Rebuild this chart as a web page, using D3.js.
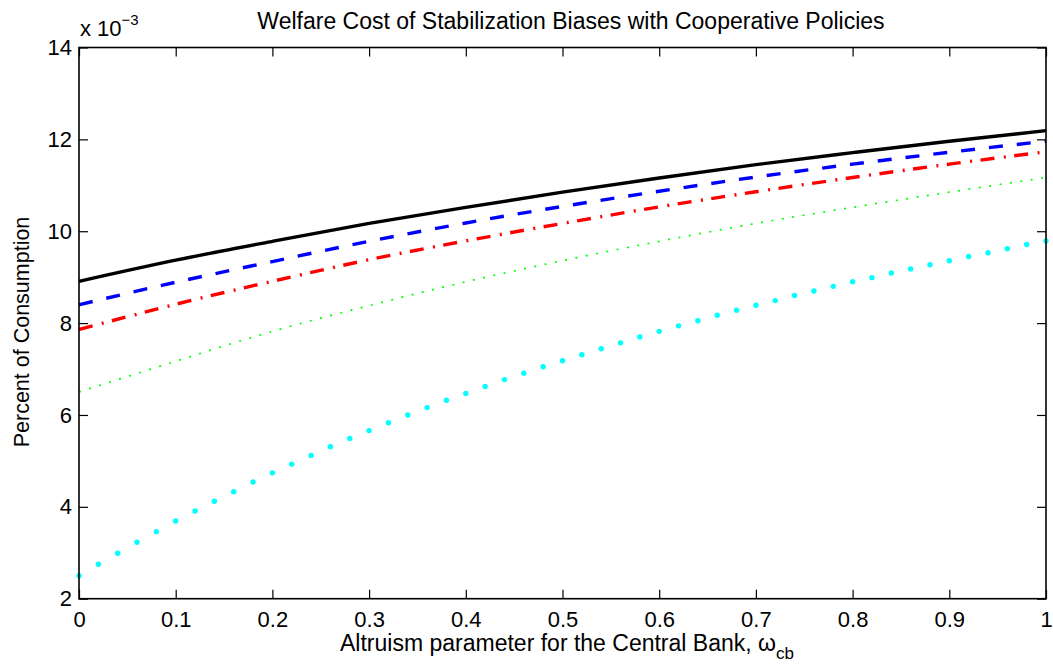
<!DOCTYPE html>
<html>
<head>
<meta charset="utf-8">
<script src="https://cdn.jsdelivr.net/npm/d3@7/dist/d3.min.js"></script>
<style>
  html, body { margin: 0; padding: 0; background: #fff; }
  svg { display: block; font-family: "Liberation Sans", Arial, Helvetica, sans-serif; }
</style>
</head>
<body>
<svg id="chart" width="1053" height="664"></svg>
<script>
// Altruism parameter grid for the line series
const omegaCoarse = [0, 0.1, 0.2, 0.3, 0.4, 0.5, 0.6, 0.7, 0.8, 0.9, 1.0];

// Welfare cost (x 10^-3, percent of consumption)
const costSolid   = [8.91, 9.37, 9.78, 10.17, 10.52, 10.85, 11.16, 11.45, 11.71, 11.96, 12.19];
const costDashed  = [8.40, 8.89, 9.34, 9.78, 10.18, 10.54, 10.87, 11.18, 11.46, 11.72, 11.96];
const costDashDot = [7.86, 8.41, 8.91, 9.38, 9.79, 10.17, 10.53, 10.86, 11.17, 11.46, 11.73];
const costDotted  = [6.50, 7.17, 7.82, 8.38, 8.90, 9.36, 9.78, 10.17, 10.52, 10.85, 11.17];

// Fine grid (step 0.02) for the marker series
const omegaFine = d3.range(0, 51).map(i => +(i * 0.02).toFixed(2));
const costMarkers = [
  2.50, 2.75, 2.99, 3.23, 3.46, 3.69, 3.91, 4.12, 4.33, 4.54,
  4.74, 4.93, 5.12, 5.31, 5.49, 5.66, 5.83, 6.00, 6.16, 6.32,
  6.47, 6.62, 6.77, 6.91, 7.05, 7.18, 7.31, 7.44, 7.57, 7.70,
  7.82, 7.94, 8.05, 8.17, 8.28, 8.39, 8.49, 8.60, 8.70, 8.80,
  8.90, 8.99, 9.09, 9.18, 9.27, 9.36, 9.45, 9.53, 9.62, 9.71, 9.79
];

const xTicks = [0, 0.1, 0.2, 0.3, 0.4, 0.5, 0.6, 0.7, 0.8, 0.9, 1];
const yTicks = [2, 4, 6, 8, 10, 12, 14];

const svg = d3.select("#chart");
const plotL = 79, plotR = 1046, plotT = 47.5, plotB = 598.7;

const x = d3.scaleLinear().domain([0, 1]).range([plotL, plotR]);
const y = d3.scaleLinear().domain([2, 14]).range([plotB, plotT]);

// Title
svg.append("text")
  .attr("x", 571).attr("y", 29)
  .attr("text-anchor", "middle")
  .attr("font-size", 23)
  .text("Welfare Cost of Stabilization Biases with Cooperative Policies");

// Scale factor note above the y axis
const expo = svg.append("text").attr("x", 80).attr("y", 36).attr("font-size", 22);
expo.append("tspan").text("x 10");
expo.append("tspan").attr("dy", -11).attr("font-size", 15).text("\u22123");

// Series
const lineGen = d3.line().curve(d3.curveMonotoneX);
const seriesDefs = [
  { vals: costDotted,  color: "#00ff00", width: 1.7, dash: "2,8.5" },
  { vals: costDashDot, color: "#ff0000", width: 3.4, dash: "14,9.5,2,8.5" },
  { vals: costDashed,  color: "#0000ff", width: 3.4, dash: "14,14" },
  { vals: costSolid,   color: "#000000", width: 3.4, dash: null }
];
const plot = svg.append("g");
seriesDefs.forEach(s => {
  plot.append("path")
    .attr("d", lineGen(omegaCoarse.map((o, i) => [x(o), y(s.vals[i])])))
    .attr("fill", "none")
    .attr("stroke", s.color)
    .attr("stroke-width", s.width)
    .attr("stroke-dasharray", s.dash);
});
plot.selectAll("circle.mk")
  .data(omegaFine.map((o, i) => [o, costMarkers[i]]))
  .enter().append("circle")
  .attr("class", "mk")
  .attr("cx", d => x(d[0])).attr("cy", d => y(d[1]))
  .attr("r", 2.7)
  .attr("fill", "#00ffff");

// Axes (inward ticks, mirrored on top and right)
const tickLen = 9;
const axisBottom = d3.axisBottom(x).tickValues(xTicks).tickSizeInner(-tickLen).tickSizeOuter(0)
  .tickPadding(13).tickFormat(d => d3.format("~g")(d));
const axisTop = d3.axisTop(x).tickValues(xTicks).tickSizeInner(-tickLen).tickSizeOuter(0).tickFormat("");
const axisLeft = d3.axisLeft(y).tickValues(yTicks).tickSizeInner(-tickLen).tickSizeOuter(0)
  .tickPadding(7);
const axisRight = d3.axisRight(y).tickValues(yTicks).tickSizeInner(-tickLen).tickSizeOuter(0).tickFormat("");

function styleAxis(g) {
  g.select(".domain").remove();
  g.selectAll(".tick line").attr("stroke", "#000").attr("stroke-width", 1.2);
  g.selectAll(".tick text").attr("font-size", 22).attr("fill", "#000")
    .attr("font-family", "'Liberation Sans', Arial, sans-serif");
}
svg.append("g").attr("transform", `translate(0,${plotB})`).call(axisBottom).call(styleAxis);
svg.append("g").attr("transform", `translate(0,${plotT})`).call(axisTop).call(styleAxis);
svg.append("g").attr("transform", `translate(${plotL},0)`).call(axisLeft).call(styleAxis);
svg.append("g").attr("transform", `translate(${plotR},0)`).call(axisRight).call(styleAxis);

// Frame
svg.append("rect")
  .attr("x", plotL).attr("y", plotT)
  .attr("width", plotR - plotL).attr("height", plotB - plotT)
  .attr("fill", "none").attr("stroke", "#000").attr("stroke-width", 1.6);

// Axis labels
const xl = svg.append("text")
  .attr("x", 567).attr("y", 651)
  .attr("text-anchor", "middle").attr("font-size", 23);
xl.append("tspan").text("Altruism parameter for the Central Bank, \u03c9");
xl.append("tspan").attr("dy", 8).attr("font-size", 17).text("cb");

svg.append("text")
  .attr("transform", `translate(29,332) rotate(-90)`)
  .attr("text-anchor", "middle").attr("font-size", 21.5)
  .text("Percent of Consumption");
</script>
</body>
</html>
